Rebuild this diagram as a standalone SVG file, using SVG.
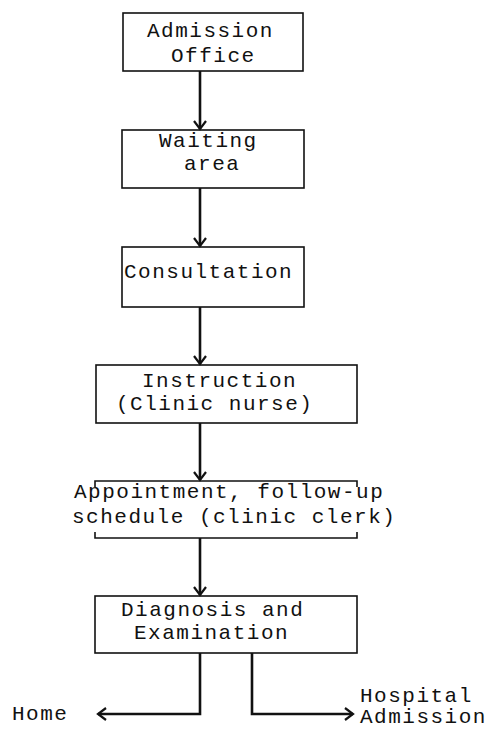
<svg xmlns="http://www.w3.org/2000/svg" width="494" height="730" viewBox="0 0 494 730">
  <style>
    .box { fill: none; stroke: #111; stroke-width: 1.6; }
    .t { font-family: "Liberation Mono", "DejaVu Sans Mono", monospace; font-size: 21px; letter-spacing: 1.5px; fill: #111; }
    .c { fill: none; stroke: #111; stroke-width: 2.6; }
  </style>
  <defs>
    <marker id="ah" markerUnits="userSpaceOnUse" markerWidth="16" markerHeight="16" refX="12" refY="8" orient="auto">
      <path d="M4,2 L12,8 L4,14" fill="none" stroke="#111" stroke-width="2.2"/>
    </marker>
  </defs>
  <rect width="494" height="730" fill="#fff"/>

  <g id="admission-office">
    <rect class="box" x="123" y="13" width="180" height="58"/>
    <text class="t" x="147" y="37">Admission</text>
    <text class="t" x="171" y="62">Office</text>
  </g>
  <g id="waiting-area">
    <rect class="box" x="122" y="130" width="182" height="58"/>
    <text class="t" x="159" y="147">Waiting</text>
    <text class="t" x="184" y="170">area</text>
  </g>
  <g id="consultation">
    <rect class="box" x="122" y="247" width="182" height="60"/>
    <text class="t" x="124" y="278">Consultation</text>
  </g>
  <g id="instruction">
    <rect class="box" x="96" y="365" width="261" height="58"/>
    <text class="t" x="142" y="387">Instruction</text>
    <text class="t" x="116" y="410">(Clinic nurse)</text>
  </g>
  <g id="appointment">
    <path class="box" d="M95,487 L95,481 L357,481 L357,487 M95,532 L95,538 L357,538 L357,532"/>
    <text class="t" x="74" y="498">Appointment, follow-up</text>
    <text class="t" x="72" y="523">schedule (clinic clerk)</text>
  </g>
  <g id="diagnosis">
    <rect class="box" x="95" y="596" width="262" height="57"/>
    <text class="t" x="121" y="616">Diagnosis and</text>
    <text class="t" x="134" y="639">Examination</text>
  </g>
  <g id="home">
    <text class="t" x="12" y="720">Home</text>
  </g>
  <g id="hospital-admission">
    <text class="t" x="360" y="702">Hospital</text>
    <text class="t" x="360" y="723">Admission</text>
  </g>

  <g id="connectors">
    <path class="c" d="M200,71 L200,129" marker-end="url(#ah)"/>
    <path class="c" d="M200,188 L200,246" marker-end="url(#ah)"/>
    <path class="c" d="M200,307 L200,364" marker-end="url(#ah)"/>
    <path class="c" d="M200,423 L200,480" marker-end="url(#ah)"/>
    <path class="c" d="M200,538 L200,595" marker-end="url(#ah)"/>
    <path class="c" d="M200,653 L200,714 L98,714" marker-end="url(#ah)"/>
    <path class="c" d="M252,653 L252,714 L353,714" marker-end="url(#ah)"/>
  </g>
</svg>
